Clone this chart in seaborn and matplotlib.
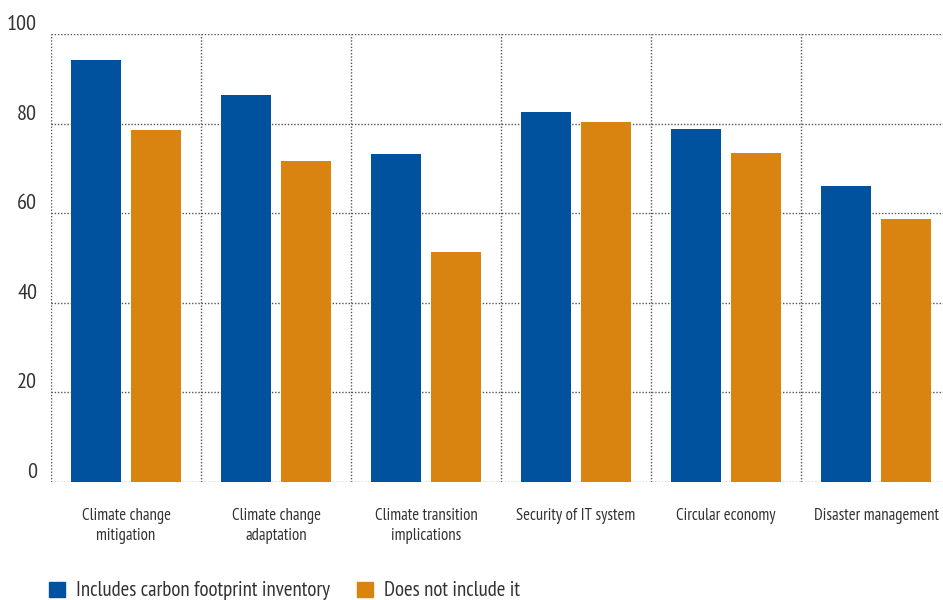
import pandas as pd
import matplotlib.pyplot as plt
import seaborn as sns
from matplotlib.patches import Patch
from matplotlib import font_manager

categories = ["Climate change\nmitigation", "Climate change\nadaptation", "Climate transition\nimplications",
              "Security of IT system", "Circular economy", "Disaster management"]
series = ["Includes carbon footprint inventory", "Does not include it"]
includes = [94.2, 86.4, 73.2, 82.6, 78.8, 66.1]
not_includes = [78.6, 71.7, 51.3, 80.4, 73.4, 58.7]
yticks = [0, 20, 40, 60, 80, 100]
colors = ["#00529f", "#d98310"]

df = pd.DataFrame({
    "category": categories * 2,
    "series": [series[0]] * 6 + [series[1]] * 6,
    "value": includes + not_includes,
})

sns.set_style("white")
# condensed font if there is one, else plain DejaVu
names = {f.name for f in font_manager.fontManager.ttflist}
fam = "DejaVu Sans"
for cand in ["PT Sans Narrow", "Roboto Condensed", "Open Sans Condensed", "Archivo Narrow",
             "Liberation Sans Narrow", "Asap Condensed"]:
    if cand in names:
        fam = cand
        break
plt.rcParams["font.family"] = [fam, "DejaVu Sans"]
small = fam == "DejaVu Sans"

fig = plt.figure(figsize=(9.43, 6.0), dpi=100)
ax = fig.add_axes([51 / 943, 1 - 482 / 600, 900 / 943, 448 / 600])

sns.barplot(data=df, x="category", y="value", hue="series", palette=colors,
            width=0.8, gap=0.18, ax=ax, legend=False, saturation=1, linewidth=0)

ax.set_xlim(-0.5, 5.5)
ax.set_ylim(0, 100)
ax.set_yticks(yticks)
ax.set_xlabel("")
ax.set_ylabel("")
for s in ax.spines.values():
    s.set_visible(False)

grid_kw = dict(color="#555555", lw=1.0, ls=(0, (1, 1.3)), zorder=0)
for y in yticks:
    ax.axhline(y, **grid_kw)
for x in range(6):
    ax.axvline(x - 0.5, **grid_kw)
ax.set_axisbelow(True)

ax.tick_params(axis="y", length=0, pad=10, labelsize=13 if small else 16, labelcolor="#333333")
ax.tick_params(axis="x", length=0, pad=19, labelsize=9.5 if small else 12, labelcolor="#333333")
for lbl in ax.get_yticklabels():
    lbl.set_verticalalignment("bottom")
for lbl in ax.get_xticklabels():
    lbl.set_linespacing(1.3)

handles = [Patch(color=c, label=s) for c, s in zip(colors, series)]
fig.legend(handles=handles, loc="lower left", bbox_to_anchor=(0.032, -0.032), ncol=2,
           frameon=False, fontsize=13 if small else 15, handlelength=0.75, handleheight=0.75,
           handletextpad=0.55, columnspacing=1.3, labelcolor="#333333")

fig.savefig("out.png", dpi=100)
